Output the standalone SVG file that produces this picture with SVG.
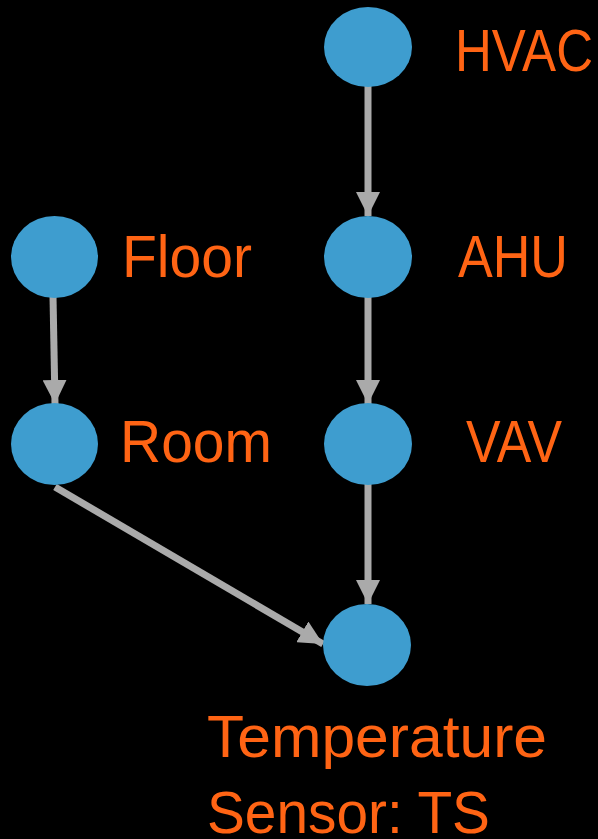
<svg xmlns="http://www.w3.org/2000/svg" width="598" height="839" viewBox="0 0 598 839">
<style>
.n{fill:#3E9DCF}
.t{fill:#FF6414;font-family:"Liberation Sans",Arial,sans-serif;font-size:60px}
.e{stroke:#AAAAAA;stroke-width:7;fill:none}
</style>
<defs>
<marker id="a" viewBox="0 0 24 24" refX="24" refY="12" markerWidth="24" markerHeight="24" markerUnits="userSpaceOnUse" orient="auto">
<path d="M0,0 L24,12 L0,24 Z" fill="#AAAAAA"/>
</marker>
</defs>
<rect width="598" height="839" fill="#000"/>
<g id="edges">
<line class="e" x1="368" y1="85" x2="368" y2="216" marker-end="url(#a)"/>
<line class="e" x1="368" y1="296" x2="368" y2="404" marker-end="url(#a)"/>
<line class="e" x1="53" y1="296" x2="55" y2="404" marker-end="url(#a)"/>
<line class="e" x1="368" y1="484" x2="368" y2="604" marker-end="url(#a)"/>
<line class="e" x1="55" y1="487" x2="323" y2="644" marker-end="url(#a)"/>
</g>
<g id="hvac"><ellipse class="n" cx="368" cy="47" rx="44" ry="40"/><text class="t" x="455" y="71" textLength="138" lengthAdjust="spacingAndGlyphs">HVAC</text></g>
<g id="floor"><ellipse class="n" cx="54.5" cy="257" rx="43.5" ry="41"/><text class="t" x="122" y="277" textLength="130" lengthAdjust="spacingAndGlyphs">Floor</text></g>
<g id="ahu"><ellipse class="n" cx="368" cy="257" rx="44" ry="41"/><text class="t" x="458" y="277" textLength="110" lengthAdjust="spacingAndGlyphs">AHU</text></g>
<g id="room"><ellipse class="n" cx="54.5" cy="444" rx="43.5" ry="41"/><text class="t" x="120" y="462" textLength="152" lengthAdjust="spacingAndGlyphs">Room</text></g>
<g id="vav"><ellipse class="n" cx="368" cy="444" rx="44" ry="41"/><text class="t" x="466" y="462" textLength="96" lengthAdjust="spacingAndGlyphs">VAV</text></g>
<g id="ts"><ellipse class="n" cx="367" cy="645" rx="44" ry="41"/><text class="t" x="207" y="757" textLength="340" lengthAdjust="spacingAndGlyphs">Temperature</text><text class="t" x="207" y="833" textLength="283" lengthAdjust="spacingAndGlyphs">Sensor: TS</text></g>
</svg>
